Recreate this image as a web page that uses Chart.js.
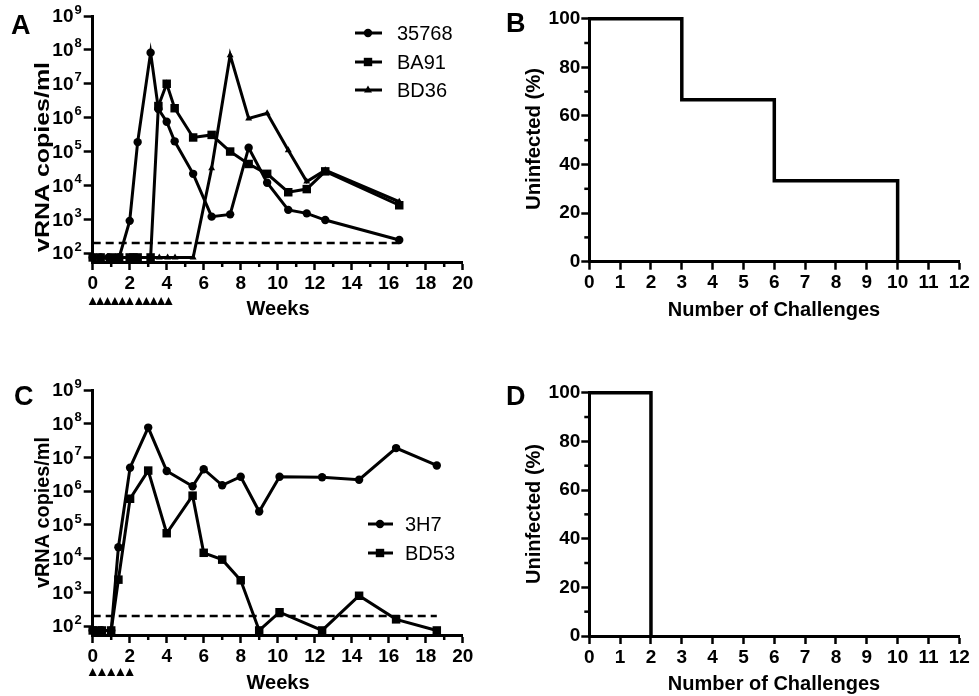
<!DOCTYPE html>
<html><head><meta charset="utf-8">
<script src="https://cdn.jsdelivr.net/npm/chart.js@4.4.0/dist/chart.umd.min.js"></script>
<style>
html,body{margin:0;padding:0;background:#fff;width:979px;height:696px;overflow:hidden;}
canvas{position:absolute;}
</style></head><body>
<canvas id="cA" width="490" height="348" style="left:0;top:0;width:490px;height:348px"></canvas>
<canvas id="cB" width="489" height="348" style="left:490px;top:0;width:489px;height:348px"></canvas>
<canvas id="cC" width="490" height="348" style="left:0;top:348px;width:490px;height:348px"></canvas>
<canvas id="cD" width="489" height="348" style="left:490px;top:348px;width:489px;height:348px"></canvas>
<script>
// ---------- Panel A data (weeks, vRNA copies/ml) ----------
const weeks35768 = [0, 0.43, 0.86, 1.43, 2.0, 2.43, 3.13, 3.55, 4.0, 4.43, 5.43, 6.43, 7.43, 8.43, 9.43, 10.57, 11.57, 12.57, 16.57];
const vrna35768  = [75, 75, 75, 75, 900, 190000, 83000000, 1800000, 760000, 200000, 22000, 1200, 1400, 130000, 12000, 1900, 1500, 950, 245];
const weeksBA91  = [0, 0.43, 1.0, 1.43, 2.0, 2.2, 2.43, 3.13, 3.55, 4.0, 4.43, 5.43, 6.43, 7.43, 8.43, 9.43, 10.57, 11.57, 12.57, 16.57];
const vrnaBA91   = [75, 75, 75, 75, 75, 75, 75, 75, 2200000, 10000000, 1900000, 260000, 310000, 100000, 43000, 22000, 6300, 7800, 26000, 2600];
const weeksBD36  = [0, 0.43, 1.0, 1.43, 2.0, 2.43, 3.13, 3.6, 4.05, 4.45, 5.43, 6.43, 7.43, 8.43, 9.43, 10.57, 11.57, 12.57, 16.57];
const vrnaBD36   = [75, 75, 75, 75, 75, 75, 75, 75, 75, 75, 75, 32000, 70000000, 950000, 1350000, 110000, 13000, 28000, 3300];
const challengeWeeksA = [0, 0.4, 0.8, 1.2, 1.6, 2.0, 2.5, 2.9, 3.3, 3.7, 4.1];
const lodA = [0, 16.57];

// ---------- Panel C data ----------
const weeks3H7  = [0, 0.5, 1.0, 1.39, 2.02, 3.0, 4.0, 5.4, 6.0, 7.0, 8.0, 9.0, 10.1, 12.4, 14.4, 16.4, 18.6];
const vrna3H7   = [75, 75, 75, 22000, 5000000, 77000000, 4000000, 1400000, 4500000, 1500000, 2700000, 250000, 2700000, 2600000, 2200000, 19000000, 5800000];
const weeksBD53 = [0, 0.3, 0.5, 1.0, 1.39, 2.02, 3.0, 4.0, 5.4, 6.0, 7.0, 8.0, 9.0, 10.1, 12.4, 14.4, 16.4, 18.6];
const vrnaBD53  = [75, 75, 75, 75, 2400, 600000, 4100000, 57000, 740000, 15000, 9400, 2300, 75, 260, 75, 800, 160, 75];
const challengeWeeksC = [0, 0.5, 1.0, 1.5, 2.0];
const lodC = [0, 18.6];
const lodValue = 200;

// ---------- Panels B & D (Kaplan-Meier) ----------
const challengesB  = [0, 3, 6, 10];
const uninfectedB  = [100, 66.67, 33.33, 0];
const challengesD  = [0, 2];
const uninfectedD  = [100, 0];

// ---------- tick labels ----------
const weekTicks   = [0, 2, 4, 6, 8, 10, 12, 14, 16, 18, 20];
const weekMinor   = [1, 3, 5, 7, 9, 11, 13, 15, 17, 19];
const decadeTicks = [1e2, 1e3, 1e4, 1e5, 1e6, 1e7, 1e8, 1e9];
const challengeTicks = [0, 1, 2, 3, 4, 5, 6, 7, 8, 9, 10, 11, 12];
const pctTicks    = [0, 20, 40, 60, 80, 100];
const pctMinor    = [10, 30, 50, 70, 90];

const FONT = "'Liberation Sans', Arial, Helvetica, sans-serif";
const BLACK = '#000';

function pts(xs, ys) { return xs.map((x, i) => ({x: x, y: ys[i]})); }

function series(label, xs, ys, style, radius) {
  return {
    label: label, data: pts(xs, ys), borderColor: BLACK, backgroundColor: BLACK,
    borderWidth: 3, pointStyle: style, pointRadius: radius, pointBorderWidth: 0,
    pointBackgroundColor: BLACK, tension: 0, clip: false, borderJoinStyle: 'miter'
  };
}
function lodSet(xs) {
  return { label: 'LOD', data: pts(xs, xs.map(() => lodValue)), borderColor: BLACK, borderWidth: 2.5,
    borderDash: [8, 5], pointRadius: 0, clip: false };
}

const EXTRAS = {
  cA: { letter: {t: 'A', x: 11, y: 34}, ytitle: {t: 'vRNA copies/ml', x: 43, y: 157, len: 190},
        xtitle: {t: 'Weeks', x: 278, y: 309}, logLabels: true, minorX: weekMinor,
        legend: {rows: [33, 62, 90], x1: 355, x2: 382, mx: 368, tx: 397, styles: ['circle', 'rect', 'triangle'], labels: ['35768', 'BA91', 'BD36']},
        arrows: {weeks: challengeWeeksA, y: 297} },
  cB: { letter: {t: 'B', x: 16, y: 32}, ytitle: {t: 'Uninfected (%)', x: 44, y: 139, len: 142},
        xtitle: {t: 'Number of Challenges', x: 284, y: 310}, minorY: pctMinor },
  cC: { letter: {t: 'C', x: 14, y: 57}, ytitle: {t: 'vRNA copies/ml', x: 43, y: 164.5, len: 151},
        xtitle: {t: 'Weeks', x: 278, y: 335.5}, logLabels: true, minorX: weekMinor,
        legend: {rows: [176, 205], x1: 368, x2: 393, mx: 380, tx: 405, styles: ['circle', 'rect'], labels: ['3H7', 'BD53']},
        arrows: {weeks: challengeWeeksC, y: 320} },
  cD: { letter: {t: 'D', x: 16, y: 57}, ytitle: {t: 'Uninfected (%)', x: 44, y: 166, len: 140},
        xtitle: {t: 'Number of Challenges', x: 284, y: 336}, minorY: pctMinor }
};

function drawMarker(ctx, style, x, y) {
  ctx.beginPath();
  if (style === 'circle') { ctx.arc(x, y, 4.2, 0, Math.PI * 2); }
  else if (style === 'rect') { ctx.rect(x - 4.2, y - 4.2, 8.4, 8.4); }
  else { ctx.moveTo(x, y - 4.5); ctx.lineTo(x + 4, y + 2.5); ctx.lineTo(x - 4, y + 2.5); ctx.closePath(); }
  ctx.fill();
}

const extrasPlugin = {
  id: 'extras',
  afterDraw(chart) {
    const ex = EXTRAS[chart.canvas.id];
    if (!ex) return;
    const ctx = chart.ctx, ca = chart.chartArea, sx = chart.scales.x, sy = chart.scales.y;
    ctx.save();
    ctx.fillStyle = BLACK; ctx.strokeStyle = BLACK;
    // panel letter
    ctx.font = 'bold 27px ' + FONT; ctx.textAlign = 'left'; ctx.textBaseline = 'alphabetic';
    ctx.fillText(ex.letter.t, ex.letter.x, ex.letter.y);
    // y title
    ctx.save(); ctx.translate(ex.ytitle.x, ex.ytitle.y); ctx.rotate(-Math.PI / 2);
    ctx.font = 'bold 20px ' + FONT; ctx.textAlign = 'center'; ctx.textBaseline = 'middle';
    const w = ctx.measureText(ex.ytitle.t).width; ctx.scale(ex.ytitle.len / w, 1);
    ctx.fillText(ex.ytitle.t, 0, 0); ctx.restore();
    // x title
    ctx.font = 'bold 20px ' + FONT; ctx.textAlign = 'center'; ctx.textBaseline = 'middle';
    ctx.fillText(ex.xtitle.t, ex.xtitle.x, ex.xtitle.y);
    // minor ticks
    ctx.lineWidth = 2.5;
    if (ex.minorX) ex.minorX.forEach(v => { const p = sx.getPixelForValue(v);
      ctx.beginPath(); ctx.moveTo(p, ca.bottom); ctx.lineTo(p, ca.bottom + 5); ctx.stroke(); });
    if (ex.minorY) ex.minorY.forEach(v => { const p = sy.getPixelForValue(v);
      ctx.beginPath(); ctx.moveTo(ca.left, p); ctx.lineTo(ca.left - 5, p); ctx.stroke(); });
    // log tick labels 10^n
    if (ex.logLabels) {
      decadeTicks.forEach(v => {
        const p = sy.getPixelForValue(v);
        const e = String(Math.round(Math.log10(v)));
        const right = ca.left - 11;
        ctx.font = 'bold 13px ' + FONT; ctx.textAlign = 'right'; ctx.textBaseline = 'middle';
        const ew = ctx.measureText(e).width;
        ctx.fillText(e, right, p - 6);
        ctx.font = 'bold 19px ' + FONT;
        ctx.fillText('10', right - ew - 1, p + 1);
      });
    }
    // legend
    if (ex.legend) {
      const L = ex.legend;
      L.rows.forEach((y, i) => {
        ctx.lineWidth = 3; ctx.beginPath(); ctx.moveTo(L.x1, y); ctx.lineTo(L.x2, y); ctx.stroke();
        drawMarker(ctx, L.styles[i], L.mx, y);
        ctx.font = '20px ' + FONT; ctx.textAlign = 'left'; ctx.textBaseline = 'middle';
        ctx.fillText(L.labels[i], L.tx, y + 1);
      });
    }
    // challenge arrowheads
    if (ex.arrows) {
      ex.arrows.weeks.forEach(v => {
        const p = sx.getPixelForValue(v);
        ctx.beginPath(); ctx.moveTo(p, ex.arrows.y); ctx.lineTo(p + 4, ex.arrows.y + 8);
        ctx.lineTo(p - 4, ex.arrows.y + 8); ctx.closePath(); ctx.fill();
      });
    }
    ctx.restore();
  }
};

function axisCommon(tickLen) {
  return {
    border: {display: true, color: BLACK, width: 3},
    grid: {drawOnChartArea: false, drawTicks: true, tickLength: tickLen, tickWidth: 2.5, tickColor: BLACK, color: BLACK},
  };
}
const tickFont = {family: FONT, size: 19, weight: 'bold'};

function logChart(id, datasets, pad, bottomSpace) {
  return new Chart(document.getElementById(id), {
    type: 'line',
    data: {datasets: datasets},
    options: {
      responsive: false, animation: false, devicePixelRatio: 1,
      layout: {padding: pad},
      plugins: {legend: {display: false}, tooltip: {enabled: false}},
      scales: {
        x: Object.assign(axisCommon(8), {
          type: 'linear', min: 0, max: 20,
          afterBuildTicks: s => { s.ticks = weekTicks.map(v => ({value: v})); },
          afterFit: s => { s.height = bottomSpace; },
          ticks: {color: BLACK, font: tickFont, padding: 2, autoSkip: false, maxRotation: 0, minRotation: 0}
        }),
        y: Object.assign(axisCommon(9), {
          type: 'logarithmic', min: 55, max: 1e9,
          afterBuildTicks: s => { s.ticks = decadeTicks.map(v => ({value: v})); },
          afterFit: s => { s.width = 92.7; },
          ticks: {callback: () => '', font: tickFont}
        })
      }
    },
    plugins: [extrasPlugin]
  });
}

function kmChart(id, xs, ys, pad, bottomSpace) {
  return new Chart(document.getElementById(id), {
    type: 'line',
    data: {datasets: [{label: 'Uninfected', data: pts(xs, ys), stepped: 'before', borderColor: BLACK,
      borderWidth: 3.5, pointRadius: 0, clip: false, borderJoinStyle: 'miter'}]},
    options: {
      responsive: false, animation: false, devicePixelRatio: 1,
      layout: {padding: pad},
      plugins: {legend: {display: false}, tooltip: {enabled: false}},
      scales: {
        x: Object.assign(axisCommon(8), {
          type: 'linear', min: 0, max: 12,
          afterBuildTicks: s => { s.ticks = challengeTicks.map(v => ({value: v})); },
          afterFit: s => { s.height = bottomSpace; },
          ticks: {color: BLACK, font: tickFont, padding: 2, autoSkip: false, maxRotation: 0, minRotation: 0}
        }),
        y: Object.assign(axisCommon(8), {
          type: 'linear', min: 0, max: 100,
          afterBuildTicks: s => { s.ticks = pctTicks.map(v => ({value: v})); },
          afterFit: s => { s.width = 99.3; },
          ticks: {color: BLACK, font: tickFont, padding: 1}
        })
      }
    },
    plugins: [extrasPlugin]
  });
}

logChart('cA', [
  series('35768', weeks35768, vrna35768, 'circle', 4.2),
  series('BA91', weeksBA91, vrnaBA91, 'rect', 6),
  series('BD36', weeksBD36, vrnaBD36, 'triangle', 4),
  lodSet(lodA)
], {left: 0, top: 16, right: 27.3, bottom: 0}, 86);

kmChart('cB', challengesB, uninfectedB, {left: 0, top: 18.7, right: 19.7, bottom: 0}, 86.3);

logChart('cC', [
  series('3H7', weeks3H7, vrna3H7, 'circle', 4.2),
  series('BD53', weeksBD53, vrnaBD53, 'rect', 6),
  lodSet(lodC)
], {left: 0, top: 42, right: 27.3, bottom: 0}, 61);

kmChart('cD', challengesD, uninfectedD, {left: 0, top: 44.7, right: 19.7, bottom: 0}, 60);
</script>
</body></html>
